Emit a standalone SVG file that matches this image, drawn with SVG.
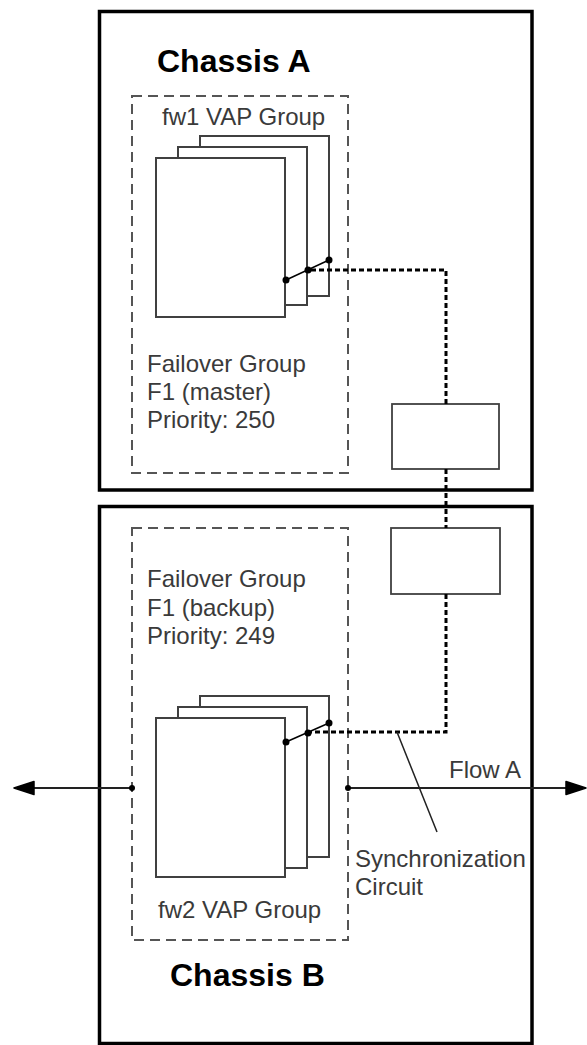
<svg xmlns="http://www.w3.org/2000/svg" width="587" height="1045" viewBox="0 0 587 1045">
  <defs>
    <style>
      .chassis { fill: none; stroke: #000; stroke-width: 3.5; }
      .group { fill: none; stroke: #555; stroke-width: 2; stroke-dasharray: 10 6; }
      .page { fill: #fff; stroke: #404040; stroke-width: 2; }
      .box { fill: #fff; stroke: #404040; stroke-width: 1.8; }
      .dot { fill: #000; }
      .link { fill: none; stroke: #000; stroke-width: 1.5; }
      .sync { fill: none; stroke: #000; stroke-width: 3; stroke-dasharray: 5 3; }
      .flow { fill: none; stroke: #222; stroke-width: 2; }
      .head { fill: #000; stroke: #000; stroke-width: 1.5; stroke-linejoin: round; }
      .callout { fill: none; stroke: #222; stroke-width: 1.5; }
      .title { font-family: "Liberation Sans", Arial, sans-serif; font-size: 32px; font-weight: bold; fill: #000; }
      .label { font-family: "Liberation Sans", Arial, sans-serif; font-size: 24px; fill: #3a3a3a; }
    </style>
    <path id="arrowhead" class="head" d="M0,0 L-20,-6.5 L-20,6.5 Z"/>
  </defs>

  <g id="chassis-a">
    <rect class="chassis" x="99.5" y="11.5" width="432.5" height="478.5"/>
    <text class="title" x="157" y="72">Chassis A</text>
  </g>

  <g id="chassis-b">
    <rect class="chassis" x="99.5" y="506.5" width="432.5" height="537"/>
    <text class="title" x="170" y="986">Chassis B</text>
  </g>

  <g id="fw1-vap-group">
    <rect class="group" x="132" y="96" width="216" height="377"/>
    <text class="label" x="162" y="125">fw1 VAP Group</text>
    <rect class="page" x="200" y="136" width="129" height="160"/>
    <rect class="page" x="178" y="147" width="129" height="158"/>
    <rect class="page" x="156" y="158" width="129" height="159"/>
    <line class="link" x1="286" y1="280" x2="329" y2="260"/>
    <circle class="dot" cx="286" cy="280" r="3.5"/>
    <circle class="dot" cx="308" cy="270" r="3.5"/>
    <circle class="dot" cx="329" cy="260" r="3.5"/>
    <text class="label" x="147" y="372">Failover Group</text>
    <text class="label" x="147" y="400">F1 (master)</text>
    <text class="label" x="147" y="428">Priority: 250</text>
  </g>

  <g id="fw2-vap-group">
    <rect class="group" x="132" y="528" width="216" height="412"/>
    <text class="label" x="147" y="587">Failover Group</text>
    <text class="label" x="147" y="616">F1 (backup)</text>
    <text class="label" x="147" y="644">Priority: 249</text>
    <rect class="page" x="200" y="696" width="129" height="161"/>
    <rect class="page" x="178" y="707" width="129" height="161"/>
    <rect class="page" x="156" y="718" width="129" height="159"/>
    <line class="link" x1="286" y1="742" x2="329" y2="723"/>
    <circle class="dot" cx="286" cy="742" r="3.5"/>
    <circle class="dot" cx="308" cy="733" r="3.5"/>
    <circle class="dot" cx="329" cy="723" r="3.5"/>
    <text class="label" x="158" y="918">fw2 VAP Group</text>
  </g>

  <g id="sync-box-a">
    <rect class="box" x="392" y="404" width="107" height="65"/>
  </g>

  <g id="sync-box-b">
    <rect class="box" x="391" y="528" width="109" height="66"/>
  </g>

  <g id="connectors">
    <path class="sync" d="M311 270 H446 V404"/>
    <path class="sync" d="M446 469 V528"/>
    <path class="sync" d="M446 594 V732 H311"/>
    <line class="flow" x1="132" y1="788" x2="24" y2="788"/>
    <use href="#arrowhead" transform="translate(14 788) rotate(180)"/>
    <line class="flow" x1="348" y1="788" x2="576" y2="788"/>
    <use href="#arrowhead" transform="translate(586 788)"/>
    <circle class="dot" cx="132" cy="788" r="3"/>
    <circle class="dot" cx="348" cy="788" r="3"/>
    <line class="callout" x1="397" y1="732" x2="437" y2="832"/>
  </g>

  <g id="labels">
    <text class="label" x="449" y="778">Flow A</text>
    <text class="label" x="355" y="867">Synchronization</text>
    <text class="label" x="355" y="895">Circuit</text>
  </g>
</svg>
